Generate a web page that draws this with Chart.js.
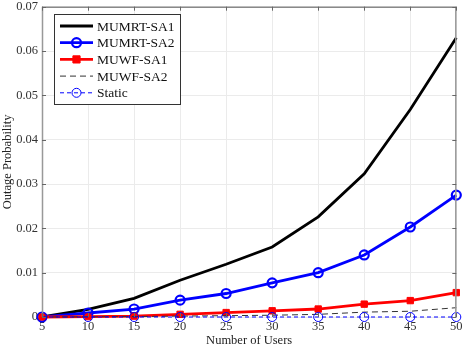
<!DOCTYPE html>
<html>
<head>
<meta charset="utf-8">
<script src="https://cdn.jsdelivr.net/npm/chart.js@4.4.1/dist/chart.umd.min.js"></script>
<style>
  body { margin: 0; background: #fff; }
  #wrap { width: 463px; height: 348px; }
</style>
</head>
<body>
<div id="wrap"><canvas id="outage-chart"></canvas></div>
<script>
const users = [5, 10, 15, 20, 25, 30, 35, 40, 45, 50];
const mumrtSa1 = [0, 0.0017, 0.0042, 0.0083, 0.0119, 0.0158, 0.0226, 0.0323, 0.0468, 0.0630];
const mumrtSa2 = [0, 0.0009, 0.0018, 0.0038, 0.0053, 0.0077, 0.0100, 0.0140, 0.0203, 0.0275];
const muwfSa1 = [0, 0.0001, 0.0002, 0.0006, 0.0010, 0.0014, 0.0018, 0.0029, 0.0037, 0.0055];
const muwfSa2 = [0, 0.00005, 0.0001, 0.0002, 0.0003, 0.0004, 0.0006, 0.0011, 0.0013, 0.0021];
const staticScheme = [0, 0, 0, 0, 0, 0, 0, 0, 0, 0];
const yTicks = [0, 0.01, 0.02, 0.03, 0.04, 0.05, 0.06, 0.07];

const serif = '"Liberation Serif", "DejaVu Serif", serif';

function pts(vals) {
  return users.map((u, i) => ({ x: u, y: vals[i] }));
}

// frame box + inward ticks like matlab
const frame = {
  id: 'frame',
  afterDraw(chart) {
    const { ctx, chartArea: a, scales } = chart;
    ctx.save();
    ctx.lineWidth = 1;
    ctx.strokeStyle = '#555';
    ctx.beginPath();
    ctx.moveTo(a.left, a.top + 0.5); ctx.lineTo(a.right, a.top + 0.5);
    ctx.stroke();
    ctx.strokeStyle = '#999';
    ctx.lineWidth = 1.5;
    ctx.beginPath();
    ctx.moveTo(a.left + 0.5, a.top); ctx.lineTo(a.left + 0.5, a.bottom);
    ctx.moveTo(a.right - 0.5, a.top); ctx.lineTo(a.right - 0.5, a.bottom);
    ctx.stroke();
    ctx.strokeStyle = '#666';
    ctx.lineWidth = 1;
    ctx.beginPath();
    users.forEach(u => {
      const x = Math.round(scales.x.getPixelForValue(u)) + 0.5;
      ctx.moveTo(x, a.bottom); ctx.lineTo(x, a.bottom - 4);
      ctx.moveTo(x, a.top); ctx.lineTo(x, a.top + 4);
    });
    yTicks.forEach(v => {
      const y = Math.round(scales.y.getPixelForValue(v)) + 0.5;
      ctx.moveTo(a.left, y); ctx.lineTo(a.left + 4, y);
      ctx.moveTo(a.right, y); ctx.lineTo(a.right - 4, y);
    });
    ctx.stroke();
    ctx.restore();
  }
};

// legend box drawn inside the axes, top left
const insideLegend = {
  id: 'insideLegend',
  afterDraw(chart) {
    const ctx = chart.ctx;
    const bx = 54.5, by = 14.5, bw = 126, bh = 90;
    ctx.save();
    ctx.fillStyle = '#fff';
    ctx.fillRect(bx, by, bw, bh);
    ctx.strokeStyle = '#333';
    ctx.lineWidth = 1;
    ctx.strokeRect(bx, by, bw, bh);
    ctx.font = '13.5px ' + serif;
    ctx.textBaseline = 'middle';
    chart.data.datasets.forEach((ds, i) => {
      const y = 26 + i * 16.7;
      ctx.strokeStyle = ds.borderColor;
      ctx.lineWidth = ds.borderWidth;
      ctx.setLineDash(ds.borderDash || []);
      ctx.beginPath();
      ctx.moveTo(60, y); ctx.lineTo(93, y);
      ctx.stroke();
      ctx.setLineDash([]);
      if (ds.pointRadius > 0) {
        ctx.lineWidth = ds.pointBorderWidth;
        ctx.strokeStyle = ds.pointBorderColor;
        ctx.fillStyle = ds.pointBackgroundColor;
        const r = ds.pointRadius;
        ctx.beginPath();
        if (ds.pointStyle === 'rect') {
          ctx.rect(76.5 - r * 0.8, y - r * 0.8, r * 1.6, r * 1.6);
        } else {
          ctx.arc(76.5, y, r, 0, Math.PI * 2);
        }
        ctx.fill();
        ctx.stroke();
      }
      ctx.fillStyle = '#111';
      ctx.fillText(ds.label, 97, y + 1);
    });
    ctx.restore();
  }
};

new Chart(document.getElementById('outage-chart'), {
  type: 'line',
  data: {
    datasets: [
      {
        label: 'MUMRT-SA1', data: pts(mumrtSa1), order: 5,
        borderColor: '#000', borderWidth: 2.8, pointRadius: 0
      },
      {
        label: 'MUMRT-SA2', data: pts(mumrtSa2), order: 4,
        borderColor: '#0000ff', borderWidth: 2.8,
        pointRadius: 4.5, pointStyle: 'circle', pointBorderWidth: 2.2,
        pointBorderColor: '#0000ff', pointBackgroundColor: 'rgba(255,255,255,0)'
      },
      {
        label: 'MUWF-SA1', data: pts(muwfSa1), order: 3,
        borderColor: '#ff0000', borderWidth: 2.8,
        pointRadius: 4.5, pointStyle: 'rect', pointBorderWidth: 1,
        pointBorderColor: '#ff0000', pointBackgroundColor: '#ff0000'
      },
      {
        label: 'MUWF-SA2', data: pts(muwfSa2), order: 2,
        borderColor: '#333', borderWidth: 1, borderDash: [6, 4], pointRadius: 0
      },
      {
        label: 'Static', data: pts(staticScheme), order: 1,
        borderColor: '#0000ff', borderWidth: 1, borderDash: [4, 3],
        pointRadius: 4.5, pointStyle: 'circle', pointBorderWidth: 1,
        pointBorderColor: '#0000ff', pointBackgroundColor: 'rgba(255,255,255,0)'
      }
    ]
  },
  options: {
    responsive: true,
    maintainAspectRatio: false,
    animation: false,
    layout: { padding: { top: 5, right: 6, left: 0, bottom: 0 } },
    datasets: { line: { tension: 0, clip: 10 } },
    plugins: { legend: { display: false }, tooltip: { enabled: false } },
    scales: {
      x: {
        type: 'linear', min: 5, max: 50,
        afterBuildTicks: s => { s.ticks = users.map(v => ({ value: v })); },
        grid: { color: '#ebebeb', drawTicks: false },
        border: { display: false },
        ticks: { color: '#333', padding: 2, font: { family: serif, size: 12.5 } },
        title: { display: true, text: 'Number of Users', color: '#222', padding: 0, font: { family: serif, size: 12.5 } },
        afterFit: s => { s.height = 31; s.paddingLeft = 0; s.paddingRight = 0; }
      },
      y: {
        min: 0, max: 0.07,
        afterBuildTicks: s => { s.ticks = yTicks.map(v => ({ value: v })); },
        grid: { color: '#ebebeb', drawTicks: false },
        border: { display: false },
        ticks: {
          color: '#333', padding: 4, font: { family: serif, size: 12.5 },
          callback: v => v === 0 ? '0' : v.toFixed(2)
        },
        title: { display: true, text: 'Outage Probability', color: '#222', padding: 0, font: { family: serif, size: 12.5 } },
        afterFit: s => { s.width = 42; s.paddingTop = 0; s.paddingBottom = 0; }
      }
    }
  },
  plugins: [frame, insideLegend]
});
</script>
</body>
</html>
